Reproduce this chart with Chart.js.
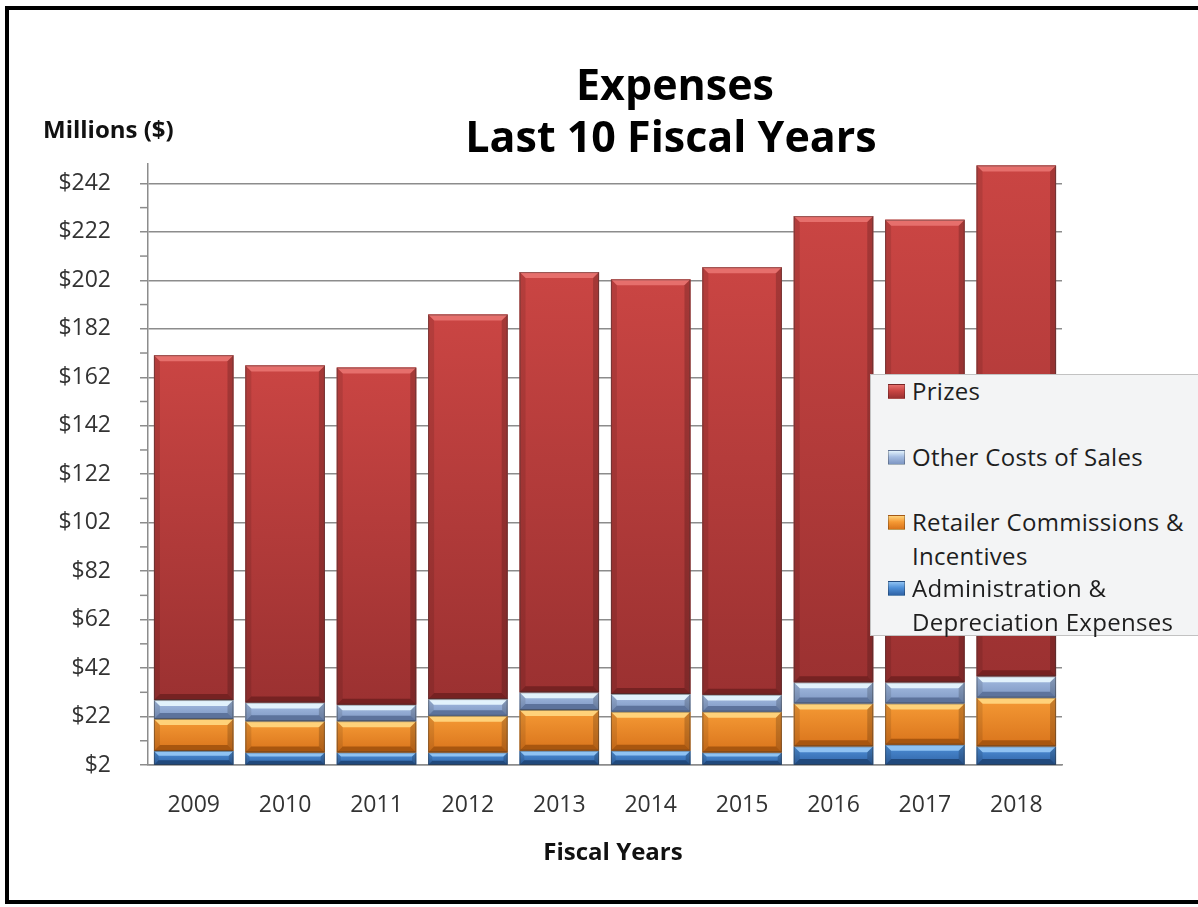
<!DOCTYPE html>
<html lang="en">
<head>
    <meta charset="UTF-8">
    <meta name="viewport" content="width=device-width, initial-scale=1.0">
    <script src="https://cdn.jsdelivr.net/npm/chart.js"></script>
    <title>Expenses - Last 10 Fiscal Years</title>
    <style>
        body { margin: 0; background: #fff; font-family: 'Open Sans', sans-serif; }
        .page { position: relative; width: 1198px; height: 907px; overflow: hidden; }
        .chart-box { position: absolute; left: 0; top: 0; width: 1198px; height: 907px; }
        .frame { position: absolute; left: 5px; top: 6px; width: 1220px; height: 898px; border: 4px solid #000; box-sizing: border-box; pointer-events: none; }
        .legend { position: absolute; left: 870px; top: 374px; width: 360px; height: 262px; background: #f3f4f5; border: 1px solid #c2c2c2; box-sizing: border-box; }
        .legend .item { position: absolute; left: 0; width: 340px; }
        .legend .mark { position: absolute; left: 17px; top: 10px; width: 17px; height: 15px; box-sizing: border-box; border: 1px solid rgba(0,0,0,0.25); }
        .legend .text { position: absolute; left: 41px; top: 0; font-size: 24px; letter-spacing: 0.3px; line-height: 34px; color: #1e1e1e; white-space: pre; }
    </style>
</head>
<body>
    <div class="page">
        <div class="chart-box">
            <canvas id="chart-expenses"></canvas>
        </div>
        <div class="legend" id="legend"></div>
        <div class="frame"></div>
    </div>

<script>
    // dados (milhões de $)
    const years = ['2009', '2010', '2011', '2012', '2013', '2014', '2015', '2016', '2017', '2018'];
    const admin = [7.8, 7.2, 7.2, 7.2, 7.9, 7.9, 7.2, 9.7, 10.4, 9.7];
    const retail = [13.2, 12.9, 12.9, 15.1, 16.8, 16.1, 16.8, 17.7, 17.0, 20.1];
    const otherCosts = [7.8, 7.7, 6.8, 6.9, 7.3, 7.3, 7.0, 8.7, 8.7, 8.8];
    const prizes = [142.3, 139.1, 139.1, 158.7, 173.4, 171.1, 176.4, 192.4, 190.9, 210.8];
    const yTicks = [2, 22, 42, 62, 82, 102, 122, 142, 162, 182, 202, 222, 242];
    const yMinorTicks = [12, 32, 52, 72, 92, 112, 132, 152, 172, 192, 212, 232];
    const titleLines = ['Expenses', 'Last 10 Fiscal Years'];

    Chart.defaults.font.family = "'Open Sans', sans-serif";

    // cores com efeito de bisel
    const shades = [
        { light: '#4f90d8', dark: '#2f63a6', hi: '#8fc2f2', lo: '#21497c' },
        { light: '#f59a35', dark: '#d9741c', hi: '#ffd27a', lo: '#a8560f' },
        { light: '#a5bde2', dark: '#7d96c2', hi: '#e2f2fc', lo: '#5d739c' },
        { light: '#ca4543', dark: '#9b3131', hi: '#e66f6c', lo: '#762222' }
    ];

    const bevelPlugin = {
        id: 'bevel',
        afterDatasetsDraw(chart) {
            const { ctx, chartArea } = chart;
            ctx.save();
            ctx.beginPath();
            ctx.rect(chartArea.left, chartArea.top, chartArea.right - chartArea.left, chartArea.bottom - chartArea.top);
            ctx.clip();
            chart.data.datasets.forEach((ds, i) => {
                const meta = chart.getDatasetMeta(i);
                const sh = shades[i];
                meta.data.forEach(bar => {
                    const p = bar.getProps(['x', 'y', 'base', 'width'], true);
                    const l = p.x - p.width / 2, r = p.x + p.width / 2;
                    const t = Math.min(p.y, p.base);
                    const b = Math.min(Math.max(p.y, p.base), chartArea.bottom);
                    if (b - t < 1) return;
                    const e = Math.min(6, (b - t) / 3);
                    const g = ctx.createLinearGradient(0, t, 0, b);
                    g.addColorStop(0, sh.light);
                    g.addColorStop(1, sh.dark);
                    ctx.fillStyle = g;
                    ctx.fillRect(l, t, r - l, b - t);
                    // topo
                    ctx.fillStyle = sh.hi;
                    ctx.beginPath();
                    ctx.moveTo(l, t); ctx.lineTo(r, t); ctx.lineTo(r - e, t + e); ctx.lineTo(l + e, t + e);
                    ctx.closePath(); ctx.fill();
                    // base
                    ctx.fillStyle = sh.lo;
                    ctx.beginPath();
                    ctx.moveTo(l, b); ctx.lineTo(r, b); ctx.lineTo(r - e, b - e); ctx.lineTo(l + e, b - e);
                    ctx.closePath(); ctx.fill();
                    // lados
                    ctx.fillStyle = 'rgba(0,0,0,0.10)';
                    ctx.beginPath();
                    ctx.moveTo(l, t); ctx.lineTo(l + e, t + e); ctx.lineTo(l + e, b - e); ctx.lineTo(l, b);
                    ctx.closePath(); ctx.fill();
                    ctx.fillStyle = 'rgba(0,0,0,0.18)';
                    ctx.beginPath();
                    ctx.moveTo(r, t); ctx.lineTo(r - e, t + e); ctx.lineTo(r - e, b - e); ctx.lineTo(r, b);
                    ctx.closePath(); ctx.fill();
                    ctx.strokeStyle = 'rgba(50,50,50,0.45)';
                    ctx.lineWidth = 1;
                    ctx.strokeRect(l + 0.5, t + 0.5, r - l - 1, b - t - 1);
                });
            });
            ctx.restore();
        }
    };

    const textPlugin = {
        id: 'texts',
        afterDraw(chart) {
            const { ctx, chartArea } = chart;
            const y = chart.scales.y;
            ctx.save();
            // marcas menores do eixo y
            ctx.strokeStyle = '#8c8c8c';
            ctx.lineWidth = 1.5;
            yMinorTicks.forEach(v => {
                const py = y.getPixelForValue(v);
                ctx.beginPath();
                ctx.moveTo(chartArea.left - 8, py);
                ctx.lineTo(chartArea.left, py);
                ctx.stroke();
            });
            ctx.fillStyle = '#000';
            ctx.textAlign = 'center';
            ctx.textBaseline = 'alphabetic';
            ctx.font = "bold 43px 'Open Sans'";
            ctx.fillText(titleLines[0], 675, 100);
            ctx.fillText(titleLines[1], 671, 152);
            ctx.font = "bold 24px 'Open Sans'";
            ctx.fillStyle = '#111';
            ctx.textBaseline = 'middle';
            ctx.textAlign = 'left';
            ctx.fillText('Millions ($)', 43, 131);
            ctx.textAlign = 'center';
            ctx.fillText('Fiscal Years', 613, 853);
            ctx.restore();
        }
    };

    const ctxExp = document.getElementById('chart-expenses');

    const chart = new Chart(ctxExp, {
        type: 'bar',
        data: {
            labels: years,
            datasets: [
                { label: 'Administration & Depreciation Expenses', data: admin, backgroundColor: shades[0].light },
                { label: 'Retailer Commissions & Incentives', data: retail, backgroundColor: shades[1].light },
                { label: 'Other Costs of Sales', data: otherCosts, backgroundColor: shades[2].light },
                { label: 'Prizes', data: prizes, backgroundColor: shades[3].light }
            ]
        },
        options: {
            responsive: true,
            maintainAspectRatio: false,
            animation: false,
            datasets: {
                bar: { categoryPercentage: 1, barPercentage: 0.87, borderWidth: 0 }
            },
            layout: {
                padding: { top: 164, right: 136, left: 0, bottom: 0 }
            },
            plugins: {
                legend: { display: false },
                title: { display: false },
                tooltip: { enabled: false }
            },
            scales: {
                x: {
                    stacked: true,
                    grid: { display: false, drawTicks: false },
                    border: { display: true, color: '#8c8c8c', width: 1.5 },
                    ticks: { padding: 27, color: '#333', font: { size: 23 } },
                    afterFit(scale) { scale.height = 142; }
                },
                y: {
                    stacked: true,
                    min: 2,
                    max: 250,
                    afterBuildTicks(scale) { scale.ticks = yTicks.map(v => ({ value: v })); },
                    afterFit(scale) { scale.width = 148; },
                    grid: { color: '#8c8c8c', lineWidth: 1.5, tickLength: 8 },
                    border: { color: '#8c8c8c', width: 1.5 },
                    ticks: {
                        padding: 29,
                        color: '#333',
                        font: { size: 23 },
                        callback: v => '$' + v
                    }
                }
            }
        },
        plugins: [bevelPlugin, textPlugin]
    });

    // legenda (ordem inversa, como no original)
    const legendEl = document.getElementById('legend');
    chart.data.datasets.slice().reverse().forEach((ds, i) => {
        const idx = chart.data.datasets.indexOf(ds);
        const sh = shades[idx];
        const item = document.createElement('div');
        item.className = 'item';
        item.style.top = (-1 + i * 65.5) + 'px';
        const mark = document.createElement('div');
        mark.className = 'mark';
        mark.style.background = 'linear-gradient(' + sh.hi + ', ' + sh.light + ' 45%, ' + sh.dark + ')';
        const text = document.createElement('div');
        text.className = 'text';
        text.textContent = ds.label.replace('& ', '&\n');
        item.appendChild(mark);
        item.appendChild(text);
        legendEl.appendChild(item);
    });
</script>
</body>
</html>
